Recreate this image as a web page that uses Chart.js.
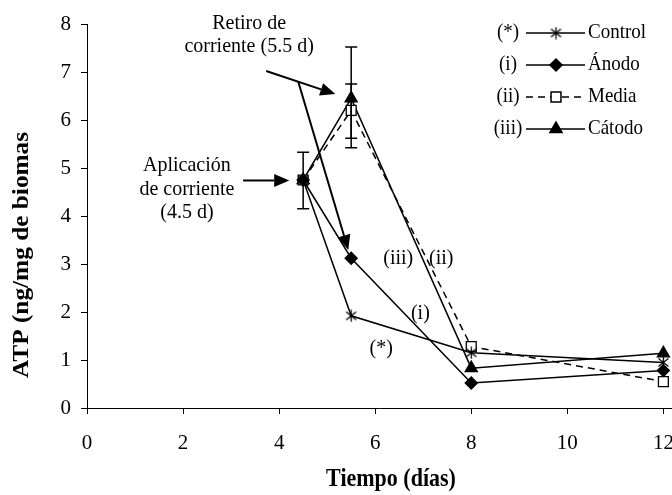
<!DOCTYPE html>
<html>
<head>
<meta charset="utf-8">
<script src="https://cdn.jsdelivr.net/npm/chart.js@4.4.1/dist/chart.umd.min.js"></script>
<style>
  html, body { margin: 0; padding: 0; background: #fff; overflow: hidden; }
  #wrap { width: 672px; height: 495px; overflow: hidden; }
</style>
</head>
<body>
<div id="wrap"><canvas id="atpChart" width="700" height="495"></canvas></div>
<script>
// datos
const days = [4.5, 5.5, 8, 12];
const control = [4.75, 1.92, 1.15, 0.95];
const anodo = [4.75, 3.12, 0.52, 0.78];
const media = [4.75, 6.2, 1.28, 0.55];
const catodo = [4.75, 6.45, 0.83, 1.14];

// barras de error (dia, minimo, maximo)
const errDay = [4.5, 5.5, 5.5];
const errLow = [4.15, 5.42, 5.62];
const errHigh = [5.33, 7.52, 6.75];

const seriesNames = ['Control', 'Ánodo', 'Media', 'Cátodo'];
const seriesTags = ['(*)', '(i)', '(ii)', '(iii)'];
const xTicks = [0, 2, 4, 6, 8, 10, 12];
const yTicks = [0, 1, 2, 3, 4, 5, 6, 7, 8];

const FONT = "'Liberation Serif', 'Times New Roman', serif";

function pts(vals) {
  return days.map((d, i) => ({ x: d, y: vals[i] }));
}

// asterisco tipo Excel
function starImg() {
  const c = document.createElement('canvas');
  c.width = 13; c.height = 13;
  const g = c.getContext('2d');
  g.strokeStyle = '#000';
  g.lineWidth = 1.3;
  g.beginPath();
  g.moveTo(6.5, 0.5); g.lineTo(6.5, 12.5);
  g.moveTo(1.5, 2.5); g.lineTo(11.5, 10.5);
  g.moveTo(11.5, 2.5); g.lineTo(1.5, 10.5);
  g.stroke();
  return c;
}

// el original esta algo estirado en vertical
function tallText(ctx, txt, x, y) {
  ctx.save();
  ctx.translate(x, y);
  ctx.scale(1, 1.1);
  ctx.fillText(txt, 0, 0);
  ctx.restore();
}

const errorBars = {
  id: 'errorBars',
  afterDatasetsDraw(chart) {
    const { ctx, scales: { x, y } } = chart;
    ctx.save();
    ctx.strokeStyle = '#000';
    ctx.lineWidth = 1.5;
    errDay.forEach((d, i) => {
      const px = x.getPixelForValue(d);
      const lo = y.getPixelForValue(errLow[i]);
      const hi = y.getPixelForValue(errHigh[i]);
      ctx.beginPath();
      ctx.moveTo(px, lo); ctx.lineTo(px, hi);
      ctx.moveTo(px - 6, lo); ctx.lineTo(px + 6, lo);
      ctx.moveTo(px - 6, hi); ctx.lineTo(px + 6, hi);
      ctx.stroke();
    });
    ctx.restore();
  }
};

// flechas y textos (coordenadas en dias / ATP)
const arrows = [
  [3.25, 4.74, 4.21, 4.74],
  [3.73, 7.02, 5.17, 6.54],
  [4.40, 6.79, 5.44, 3.29]
];
const notes = [
  ['Aplicación', 2.08, 5.06],
  ['de corriente', 2.08, 4.56],
  ['(4.5 d)', 2.08, 4.08],
  ['Retiro de', 3.375, 8.02],
  ['corriente (5.5 d)', 3.375, 7.54],
  ['(iii)', 6.48, 3.125],
  ['(ii)', 7.375, 3.125],
  ['(i)', 6.94, 1.98],
  ['(*)', 6.125, 1.25]
];

const annotations = {
  id: 'annotations',
  afterDraw(chart) {
    const { ctx, scales: { x, y } } = chart;
    ctx.save();
    ctx.strokeStyle = '#000';
    ctx.fillStyle = '#000';
    ctx.lineWidth = 2;
    arrows.forEach(a => {
      const x1 = x.getPixelForValue(a[0]), y1 = y.getPixelForValue(a[1]);
      const x2 = x.getPixelForValue(a[2]), y2 = y.getPixelForValue(a[3]);
      const ang = Math.atan2(y2 - y1, x2 - x1);
      const len = 15, half = 6.5;
      const bx = x2 - len * Math.cos(ang), by = y2 - len * Math.sin(ang);
      ctx.beginPath();
      ctx.moveTo(x1, y1); ctx.lineTo(bx, by);
      ctx.stroke();
      ctx.beginPath();
      ctx.moveTo(x2, y2);
      ctx.lineTo(bx + half * Math.sin(ang), by - half * Math.cos(ang));
      ctx.lineTo(bx - half * Math.sin(ang), by + half * Math.cos(ang));
      ctx.closePath();
      ctx.fill();
    });
    ctx.font = '20px ' + FONT;
    ctx.textAlign = 'center';
    ctx.textBaseline = 'middle';
    notes.forEach(n => {
      tallText(ctx, n[0], x.getPixelForValue(n[1]), y.getPixelForValue(n[2]));
    });

    // titulos de ejes
    ctx.font = 'bold 22px ' + FONT;
    tallText(ctx, 'Tiempo (días)', 391, 480);
    ctx.save();
    ctx.translate(22, 255);
    ctx.rotate(-Math.PI / 2);
    ctx.scale(1.1, 1);
    ctx.font = 'bold 23px ' + FONT;
    ctx.fillText('ATP (ng/mg de biomas', 0, 0);
    ctx.restore();

    // leyenda
    const ds = chart.data.datasets;
    ctx.font = '19px ' + FONT;
    ctx.lineWidth = 1.5;
    ds.forEach((d, i) => {
      const ry = 33 + i * 32;
      ctx.textAlign = 'center';
      ctx.fillStyle = '#000';
      tallText(ctx, seriesTags[i], 508, ry);
      ctx.setLineDash(d.borderDash || []);
      ctx.beginPath();
      ctx.moveTo(526, ry); ctx.lineTo(585, ry);
      ctx.stroke();
      ctx.setLineDash([]);
      ctx.fillStyle = d.pointBackgroundColor;
      ctx.strokeStyle = '#000';
      Chart.helpers.drawPoint(ctx, {
        pointStyle: d.pointStyle, radius: d.pointRadius, rotation: 0, borderWidth: 1.3
      }, 556, ry);
      ctx.fillStyle = '#000';
      ctx.textAlign = 'left';
      tallText(ctx, seriesNames[i], 588, ry);
    });
    ctx.restore();
  }
};

const base = { borderColor: '#000', borderWidth: 1.5, pointBorderColor: '#000', pointBorderWidth: 1.3, tension: 0, clip: false };

new Chart(document.getElementById('atpChart'), {
  type: 'line',
  data: {
    datasets: [
      Object.assign({}, base, { label: seriesNames[0], data: pts(control), pointStyle: starImg(), pointRadius: 6, pointBackgroundColor: '#000' }),
      Object.assign({}, base, { label: seriesNames[1], data: pts(anodo), pointStyle: 'rectRot', pointRadius: 6, pointBackgroundColor: '#000' }),
      Object.assign({}, base, { label: seriesNames[2], data: pts(media), pointStyle: 'rect', pointRadius: 7, pointBackgroundColor: '#fff', borderDash: [7, 5] }),
      Object.assign({}, base, { label: seriesNames[3], data: pts(catodo), pointStyle: 'triangle', pointRadius: 7, pointBackgroundColor: '#000' })
    ]
  },
  options: {
    responsive: false,
    animation: false,
    layout: { padding: { top: 24, right: 27, left: 0, bottom: 0 } },
    plugins: { legend: { display: false }, tooltip: { enabled: false } },
    scales: {
      x: {
        type: 'linear',
        min: 0,
        max: 12.2,
        afterBuildTicks: s => { s.ticks = xTicks.map(v => ({ value: v })); },
        afterFit: s => { s.height = 87; },
        border: { color: '#000', width: 1 },
        grid: { drawOnChartArea: false, drawTicks: true, tickLength: 6, color: '#000' },
        ticks: { color: '#000', padding: 17, maxRotation: 0, font: { family: FONT, size: 21 } }
      },
      y: {
        min: 0,
        max: 8,
        afterBuildTicks: s => { s.ticks = yTicks.map(v => ({ value: v })); },
        afterFit: s => { s.width = 87; },
        border: { color: '#000', width: 1 },
        grid: { drawOnChartArea: false, drawTicks: true, tickLength: 6, color: '#000' },
        ticks: { color: '#000', padding: 10, font: { family: FONT, size: 21 } }
      }
    }
  },
  plugins: [errorBars, annotations]
});
</script>
</body>
</html>
